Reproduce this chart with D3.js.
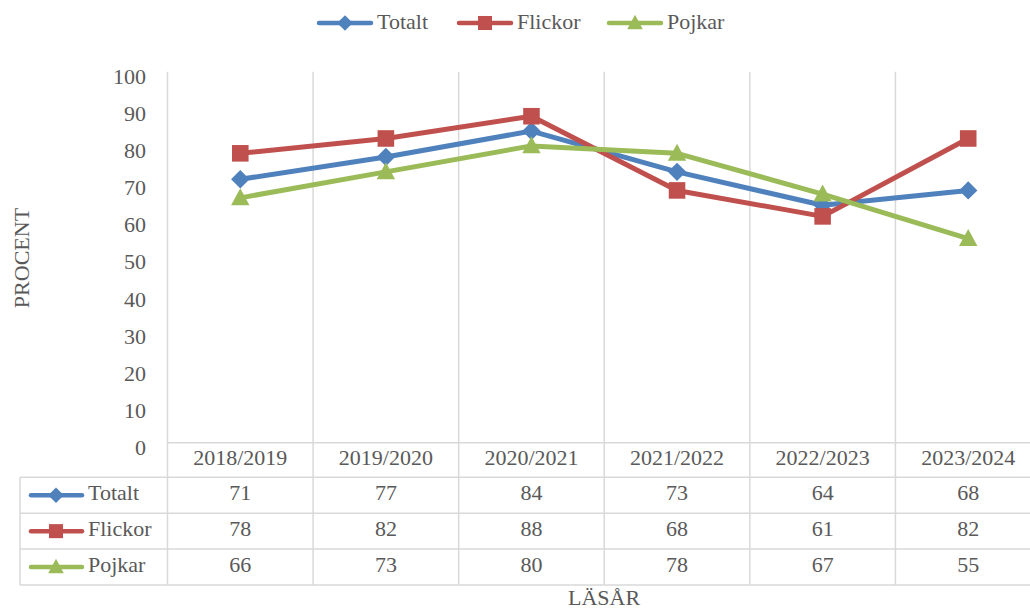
<!DOCTYPE html>
<html><head><meta charset="utf-8">
<script src="https://cdn.jsdelivr.net/npm/d3@7"></script>
<style>body{margin:0;background:#fff}svg{display:block}text{font-family:"Liberation Serif","DejaVu Serif",serif;fill:#595959}</style>
</head><body><svg id="c" width="1030" height="609"></svg>
<script>
const categories = ["2018/2019","2019/2020","2020/2021","2021/2022","2022/2023","2023/2024"];
const totalt = [71,77,84,73,64,68];
const flickor = [78,82,88,68,61,82];
const pojkar = [66,73,80,78,67,55];
const yTicks = [0,10,20,30,40,50,60,70,80,90,100];
const series = [
  {name:"Totalt", values:totalt, color:"#4F81BD", marker:"diamond"},
  {name:"Flickor", values:flickor, color:"#C0504D", marker:"square"},
  {name:"Pojkar", values:pojkar, color:"#9BBB59", marker:"triangle"}
];
const svg = d3.select("#c");
const FS = 22;
const x = d3.scaleBand().domain(categories).range([167.5, 1041]);
const y = d3.scaleLinear().domain([0,100]).range([442.7, 71.7]);
const grid = "#D9D9D9";
const rowH = 35.9;
const rowsY = [442.7, 477.3, 477.3+rowH, 477.3+2*rowH, 477.3+3*rowH];
const tableLeft = 20, right = 1041;

// vertical gridlines / column boundaries
const bounds = categories.map(c => x(c)).concat([x.range()[1]]);
svg.append("g").selectAll("line").data(bounds).join("line")
  .attr("x1", d=>d).attr("x2", d=>d).attr("y1", 71.7).attr("y2", rowsY[4])
  .attr("stroke", grid).attr("stroke-width", 1.5);
svg.append("line").attr("x1", x.range()[0]).attr("x2", right).attr("y1", rowsY[0]).attr("y2", rowsY[0]).attr("stroke", grid).attr("stroke-width",1.5);
for (let i=1;i<5;i++) svg.append("line").attr("x1", tableLeft).attr("x2", right).attr("y1", rowsY[i]).attr("y2", rowsY[i]).attr("stroke", grid).attr("stroke-width",1.5);
svg.append("line").attr("x1", tableLeft).attr("x2", tableLeft).attr("y1", rowsY[1]).attr("y2", rowsY[4]).attr("stroke", grid).attr("stroke-width",1.5);

// y axis labels
svg.append("g").selectAll("text").data(yTicks).join("text")
  .attr("x", 146).attr("y", d=>y(d)+4.5).attr("dy","0.35em").attr("text-anchor","end")
  .attr("font-size", FS).text(d=>d);

// axis titles
svg.append("text").attr("transform","translate(29,258) rotate(-90)").attr("text-anchor","middle").attr("font-size",FS).text("PROCENT");
svg.append("text").attr("x", 604).attr("y", 597).attr("dy","0.35em").attr("text-anchor","middle").attr("font-size",FS).text("LÄSÅR");

// category header
svg.append("g").selectAll("text").data(categories).join("text")
  .attr("x", d=>x(d)+x.bandwidth()/2).attr("y", 457.5).attr("dy","0.35em")
  .attr("text-anchor","middle").attr("font-size",FS).text(d=>d);

function marker(g, type, color, size){
  if (type==="diamond") g.append("path").attr("d", `M0,${-size}L${size},0L0,${size}L${-size},0Z`).attr("fill",color);
  else if (type==="square") g.append("rect").attr("x",-size*0.9).attr("y",-size*0.9).attr("width",size*1.8).attr("height",size*1.8).attr("fill",color);
  else g.append("path").attr("d", `M0,${-size*1.05}L${size},${size*0.8}L${-size},${size*0.8}Z`).attr("fill",color);
}

const line = d3.line().x((d,i)=>x(categories[i])+x.bandwidth()/2).y(d=>y(d));
series.forEach(s => {
  svg.append("path").attr("d", line(s.values)).attr("fill","none").attr("stroke", s.color).attr("stroke-width",5).attr("stroke-linejoin","round").attr("stroke-linecap","round");
});
series.forEach(s => {
  s.values.forEach((v,i)=>{
    const g = svg.append("g").attr("transform",`translate(${x(categories[i])+x.bandwidth()/2},${y(v)})`);
    marker(g, s.marker, s.color, 9.2);
  });
});

// table rows
series.forEach((s, si) => {
  const cy = (rowsY[si+1]+rowsY[si+2])/2;
  svg.append("line").attr("x1",31).attr("x2",82).attr("y1",cy).attr("y2",cy).attr("stroke",s.color).attr("stroke-width",4.5).attr("stroke-linecap","round");
  marker(svg.append("g").attr("transform",`translate(56,${cy})`), s.marker, s.color, 7.8);
  svg.append("text").attr("x",88).attr("y",cy-2.5).attr("dy","0.35em").attr("font-size",FS).text(s.name);
  svg.append("g").selectAll("text").data(s.values).join("text")
    .attr("x",(d,i)=>x(categories[i])+x.bandwidth()/2).attr("y",cy-2.5).attr("dy","0.35em")
    .attr("text-anchor","middle").attr("font-size",FS).text(d=>d);
});

// legend
const legX = [318, 458, 608];
series.forEach((s, si) => {
  const lx = legX[si], ly = 23;
  svg.append("line").attr("x1",lx+1).attr("x2",lx+53).attr("y1",ly).attr("y2",ly).attr("stroke",s.color).attr("stroke-width",4.5).attr("stroke-linecap","round");
  marker(svg.append("g").attr("transform",`translate(${lx+27},${ly})`), s.marker, s.color, 7.8);
  svg.append("text").attr("x",lx+59).attr("y",ly-1.5).attr("dy","0.35em").attr("font-size",FS).text(s.name);
});
</script></body></html>
